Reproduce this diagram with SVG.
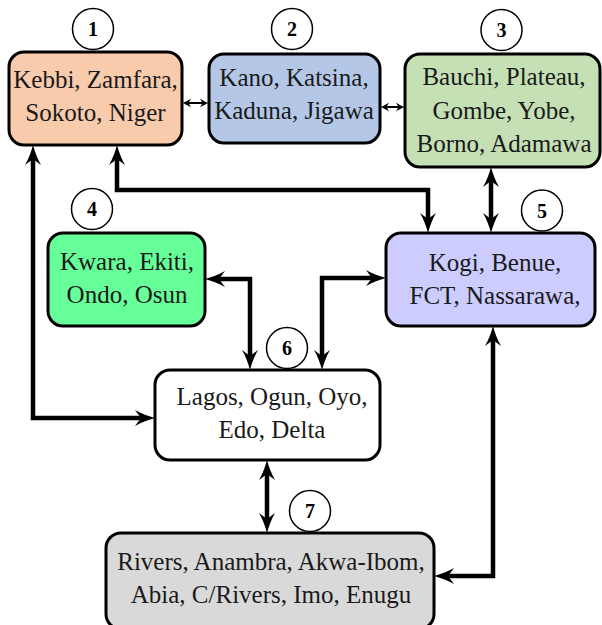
<svg xmlns="http://www.w3.org/2000/svg" width="602" height="625" viewBox="0 0 602 625">
<defs>
<style>
.box{stroke:#000;stroke-width:3}
.lbl{font-family:"Liberation Serif","Times New Roman",serif;font-size:25px;fill:#1a1a1a;text-anchor:middle}
.num{font-family:"Liberation Serif","Times New Roman",serif;font-size:20px;font-weight:bold;fill:#000;text-anchor:middle}
.circ{fill:#fff;stroke:#000;stroke-width:1.5}
.thick{fill:none;stroke:#000;stroke-width:4.5;marker-start:url(#ah);marker-end:url(#ah)}
.thin{fill:none;stroke:#000;stroke-width:2;marker-start:url(#ahs);marker-end:url(#ahs)}
</style>
<marker id="ah" markerUnits="userSpaceOnUse" viewBox="-12 -9 24 18" refX="0" refY="0" markerWidth="24" markerHeight="18" orient="auto-start-reverse">
<path d="M10,0 C4,-1.5 -4,-4.5 -10,-8 L-4,0 L-10,8 C-4,4.5 4,1.5 10,0 Z" fill="#000"/>
</marker>
<marker id="ahs" markerUnits="userSpaceOnUse" viewBox="-6 -6 12 12" refX="0" refY="0" markerWidth="12" markerHeight="12" orient="auto-start-reverse">
<path d="M4.5,0 C2,-1 -1,-2.5 -4,-4.5 L-1.5,0 L-4,4.5 C-1,2.5 2,1 4.5,0 Z" fill="#000"/>
</marker>
</defs>
<rect width="602" height="625" fill="#fff"/>

<g id="connectors">
<path class="thin" d="M187,103 H204"/>
<path class="thin" d="M385,107 H400"/>
<path class="thick" d="M33,155 V418 H145"/>
<path class="thick" d="M117,155 V190 H428 V223"/>
<path class="thick" d="M491,177 V223"/>
<path class="thick" d="M215,279 H250 V360"/>
<path class="thick" d="M376,278 H322 V360"/>
<path class="thick" d="M267,470 V523"/>
<path class="thick" d="M493,336 V576 H444"/>
</g>

<g id="node1">
<rect class="box" x="9" y="52" width="173" height="93" rx="15" fill="#F8CBAD"/>
<text class="lbl" x="95.5" y="88">Kebbi, Zamfara,</text>
<text class="lbl" x="95.5" y="121">Sokoto, Niger</text>
<circle class="circ" cx="93" cy="29" r="20.5"/>
<text class="num" x="93" y="36">1</text>
</g>

<g id="node2">
<rect class="box" x="209" y="54" width="171" height="89" rx="15" fill="#B4C7E7"/>
<text class="lbl" x="294" y="86">Kano, Katsina,</text>
<text class="lbl" x="294" y="119">Kaduna, Jigawa</text>
<circle class="circ" cx="292" cy="29" r="20.5"/>
<text class="num" x="292" y="36">2</text>
</g>

<g id="node3">
<rect class="box" x="405" y="54" width="195" height="113" rx="15" fill="#C5E0B4"/>
<text class="lbl" x="504" y="85">Bauchi, Plateau,</text>
<text class="lbl" x="504" y="118.5">Gombe, Yobe,</text>
<text class="lbl" x="504" y="152">Borno, Adamawa</text>
<circle class="circ" cx="501.5" cy="30" r="20.5"/>
<text class="num" x="501.5" y="37">3</text>
</g>

<g id="node4">
<rect class="box" x="48" y="233" width="157" height="93" rx="15" fill="#66FF99"/>
<text class="lbl" x="127" y="270">Kwara, Ekiti,</text>
<text class="lbl" x="127" y="303">Ondo, Osun</text>
<circle class="circ" cx="92" cy="209" r="20.5"/>
<text class="num" x="92" y="216">4</text>
</g>

<g id="node5">
<rect class="box" x="386" y="233" width="209" height="93" rx="15" fill="#CCCCFF"/>
<text class="lbl" x="495" y="271">Kogi, Benue,</text>
<text class="lbl" x="495" y="304">FCT, Nassarawa,</text>
<circle class="circ" cx="542" cy="210.5" r="20.5"/>
<text class="num" x="542" y="217.5">5</text>
</g>

<g id="node6">
<rect class="box" x="155" y="370" width="225" height="90" rx="15" fill="#fff"/>
<text class="lbl" x="272" y="405">Lagos, Ogun, Oyo,</text>
<text class="lbl" x="272" y="438">Edo, Delta</text>
<circle class="circ" cx="287" cy="348" r="20.5"/>
<text class="num" x="287" y="355">6</text>
</g>

<g id="node7">
<rect class="box" x="106" y="533" width="328" height="96" rx="15" fill="#D9D9D9"/>
<text class="lbl" x="271" y="570">Rivers, Anambra, Akwa-Ibom,</text>
<text class="lbl" x="271" y="603">Abia, C/Rivers, Imo, Enugu</text>
<circle class="circ" cx="310" cy="511" r="20.5"/>
<text class="num" x="310" y="518">7</text>
</g>
</svg>
